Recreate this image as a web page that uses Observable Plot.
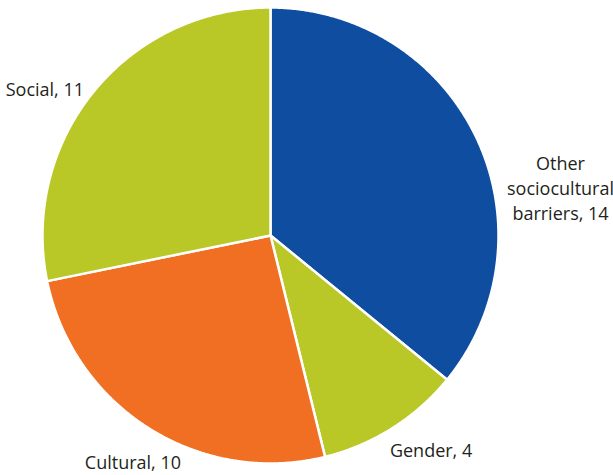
<!DOCTYPE html>
<html><head><meta charset="utf-8">
<script src="https://cdn.jsdelivr.net/npm/d3@7"></script>
<script src="https://cdn.jsdelivr.net/npm/@observablehq/plot@0.6"></script>
<style>body{margin:0;background:#fff}svg{display:block}</style>
</head><body><div id="chart"></div>
<script>
const categories = ["Other sociocultural barriers", "Gender", "Cultural", "Social"];
const values = [14, 4, 10, 11];
const labels = ["Other\nsociocultural\nbarriers, 14", "Gender, 4", "Cultural, 10", "Social, 11"];
const colors = ["#0e4da0", "#b9c727", "#f06f22", "#b9c727"];

const data = categories.map((c, i) => ({category: c, value: values[i], label: labels[i], color: colors[i], k: i}));
const arcs = d3.pie().value(d => d.value).sort(null)(data);

// slice outlines in unit-circle space
const pts = [];
arcs.forEach((a, i) => {
  pts.push({k: i, x: 0, y: 0});
  const n = Math.max(2, Math.ceil((a.endAngle - a.startAngle) / 0.005));
  for (let j = 0; j <= n; j++) {
    const t = a.startAngle + (a.endAngle - a.startAngle) * j / n;
    pts.push({k: i, x: Math.sin(t), y: Math.cos(t)});
  }
  pts.push({k: i, x: 0, y: 0});
});

const labelR = 1.17;
const labelPts = arcs.map((a, i) => {
  const m = (a.startAngle + a.endAngle) / 2;
  return {k: i, label: labels[i], x: labelR * Math.sin(m), y: labelR * Math.cos(m)};
});

const textStyle = {x: "x", y: "y", text: "label", fill: "#231f20", fontSize: 18,
  fontFamily: "Open Sans", textAnchor: "middle", lineAnchor: "middle", lineHeight: 1.39};
const offsets = [[49, 66], [18, -12], [5, 0], [-19, 21]];

const chart = Plot.plot({
  width: 613, height: 475,
  marginLeft: 42, marginRight: 115, marginTop: 7, marginBottom: 12,
  x: {domain: [-1, 1], axis: null},
  y: {domain: [-1, 1], axis: null},
  style: {background: "#fff"},
  marks: [
    Plot.line(pts, {x: "x", y: "y", z: "k", fill: d => colors[d.k], stroke: "#fff", strokeWidth: 2.5, strokeLinejoin: "round", curve: "linear"}),
    ...offsets.map(([dx, dy], i) => Plot.text(labelPts.filter(d => d.k === i), {...textStyle, dx, dy}))
  ]
});
document.getElementById("chart").append(chart);
</script>
</body></html>
